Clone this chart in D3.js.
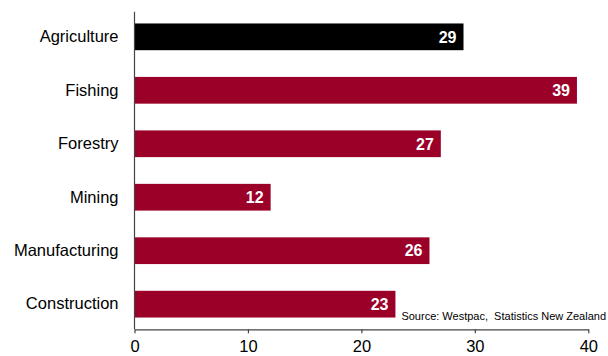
<!DOCTYPE html>
<html>
<head>
<meta charset="utf-8">
<script src="https://cdn.jsdelivr.net/npm/d3@7"></script>
<style>
  html, body { margin: 0; padding: 0; background: #fff; }
  svg { display: block; font-family: "Liberation Sans", Arial, sans-serif; }
</style>
</head>
<body>
<svg id="chart" width="608" height="356"></svg>
<script>
// Sectors and their values
const sectors = ["Agriculture", "Fishing", "Forestry", "Mining", "Manufacturing", "Construction"];
const values = [29, 39, 27, 12, 26, 23];
const highlight = ["Agriculture"];
const xTicks = [0, 10, 20, 30, 40];
const sourceNote = "Source: Westpac,  Statistics New Zealand";

const data = sectors.map((s, i) => ({ sector: s, value: values[i] }));

const svg = d3.select("#chart");
const plotLeft = 134.5, plotRight = 588.3, plotTop = 11.7, plotBottom = 329.3;

const x = d3.scaleLinear().domain([0, 40]).range([plotLeft, plotRight]);
const y = d3.scaleBand().domain(sectors).range([plotTop, plotBottom])
  .paddingInner(0.5).paddingOuter(0.22);

// Bars
svg.append("g").selectAll("rect").data(data).join("rect")
  .attr("x", x(0))
  .attr("y", d => y(d.sector))
  .attr("width", d => x(d.value) - x(0))
  .attr("height", y.bandwidth())
  .attr("fill", d => highlight.includes(d.sector) ? "#000000" : "#9b0029");

// Value labels inside bar ends
svg.append("g").selectAll("text").data(data).join("text")
  .attr("x", d => x(d.value) - 7)
  .attr("y", d => y(d.sector) + y.bandwidth() / 2)
  .attr("dy", "0.36em")
  .attr("text-anchor", "end")
  .attr("fill", "#fff")
  .attr("font-weight", "bold")
  .attr("font-size", "16px")
  .text(d => d.value);

// Y axis (line only, category labels)
const yAxis = svg.append("g").attr("transform", `translate(${plotLeft},0)`)
  .call(d3.axisLeft(y).tickSize(0).tickPadding(16));
yAxis.select(".domain").attr("stroke", "#444").attr("stroke-width", 1.2)
  .attr("d", `M0,${plotTop}V${plotBottom}`);
yAxis.selectAll("text").attr("font-size", "16.5px").attr("fill", "#000")
  .attr("font-family", "Liberation Sans, Arial, sans-serif");

// X axis
const xAxis = svg.append("g").attr("transform", `translate(0,${plotBottom})`)
  .call(d3.axisBottom(x).tickValues(xTicks).tickSize(4).tickSizeOuter(0).tickPadding(7));
xAxis.select(".domain").attr("stroke", "#444").attr("stroke-width", 1.2);
xAxis.selectAll(".tick line").attr("stroke", "#444").attr("stroke-width", 1.2);
xAxis.selectAll("text").attr("font-size", "16.5px").attr("fill", "#000")
  .attr("font-family", "Liberation Sans, Arial, sans-serif");

// Source note
svg.append("text")
  .attr("x", 606)
  .attr("y", 320)
  .attr("text-anchor", "end")
  .attr("font-size", "11px")
  .attr("fill", "#000")
  .style("white-space", "pre")
  .text(sourceNote);
</script>
</body>
</html>
